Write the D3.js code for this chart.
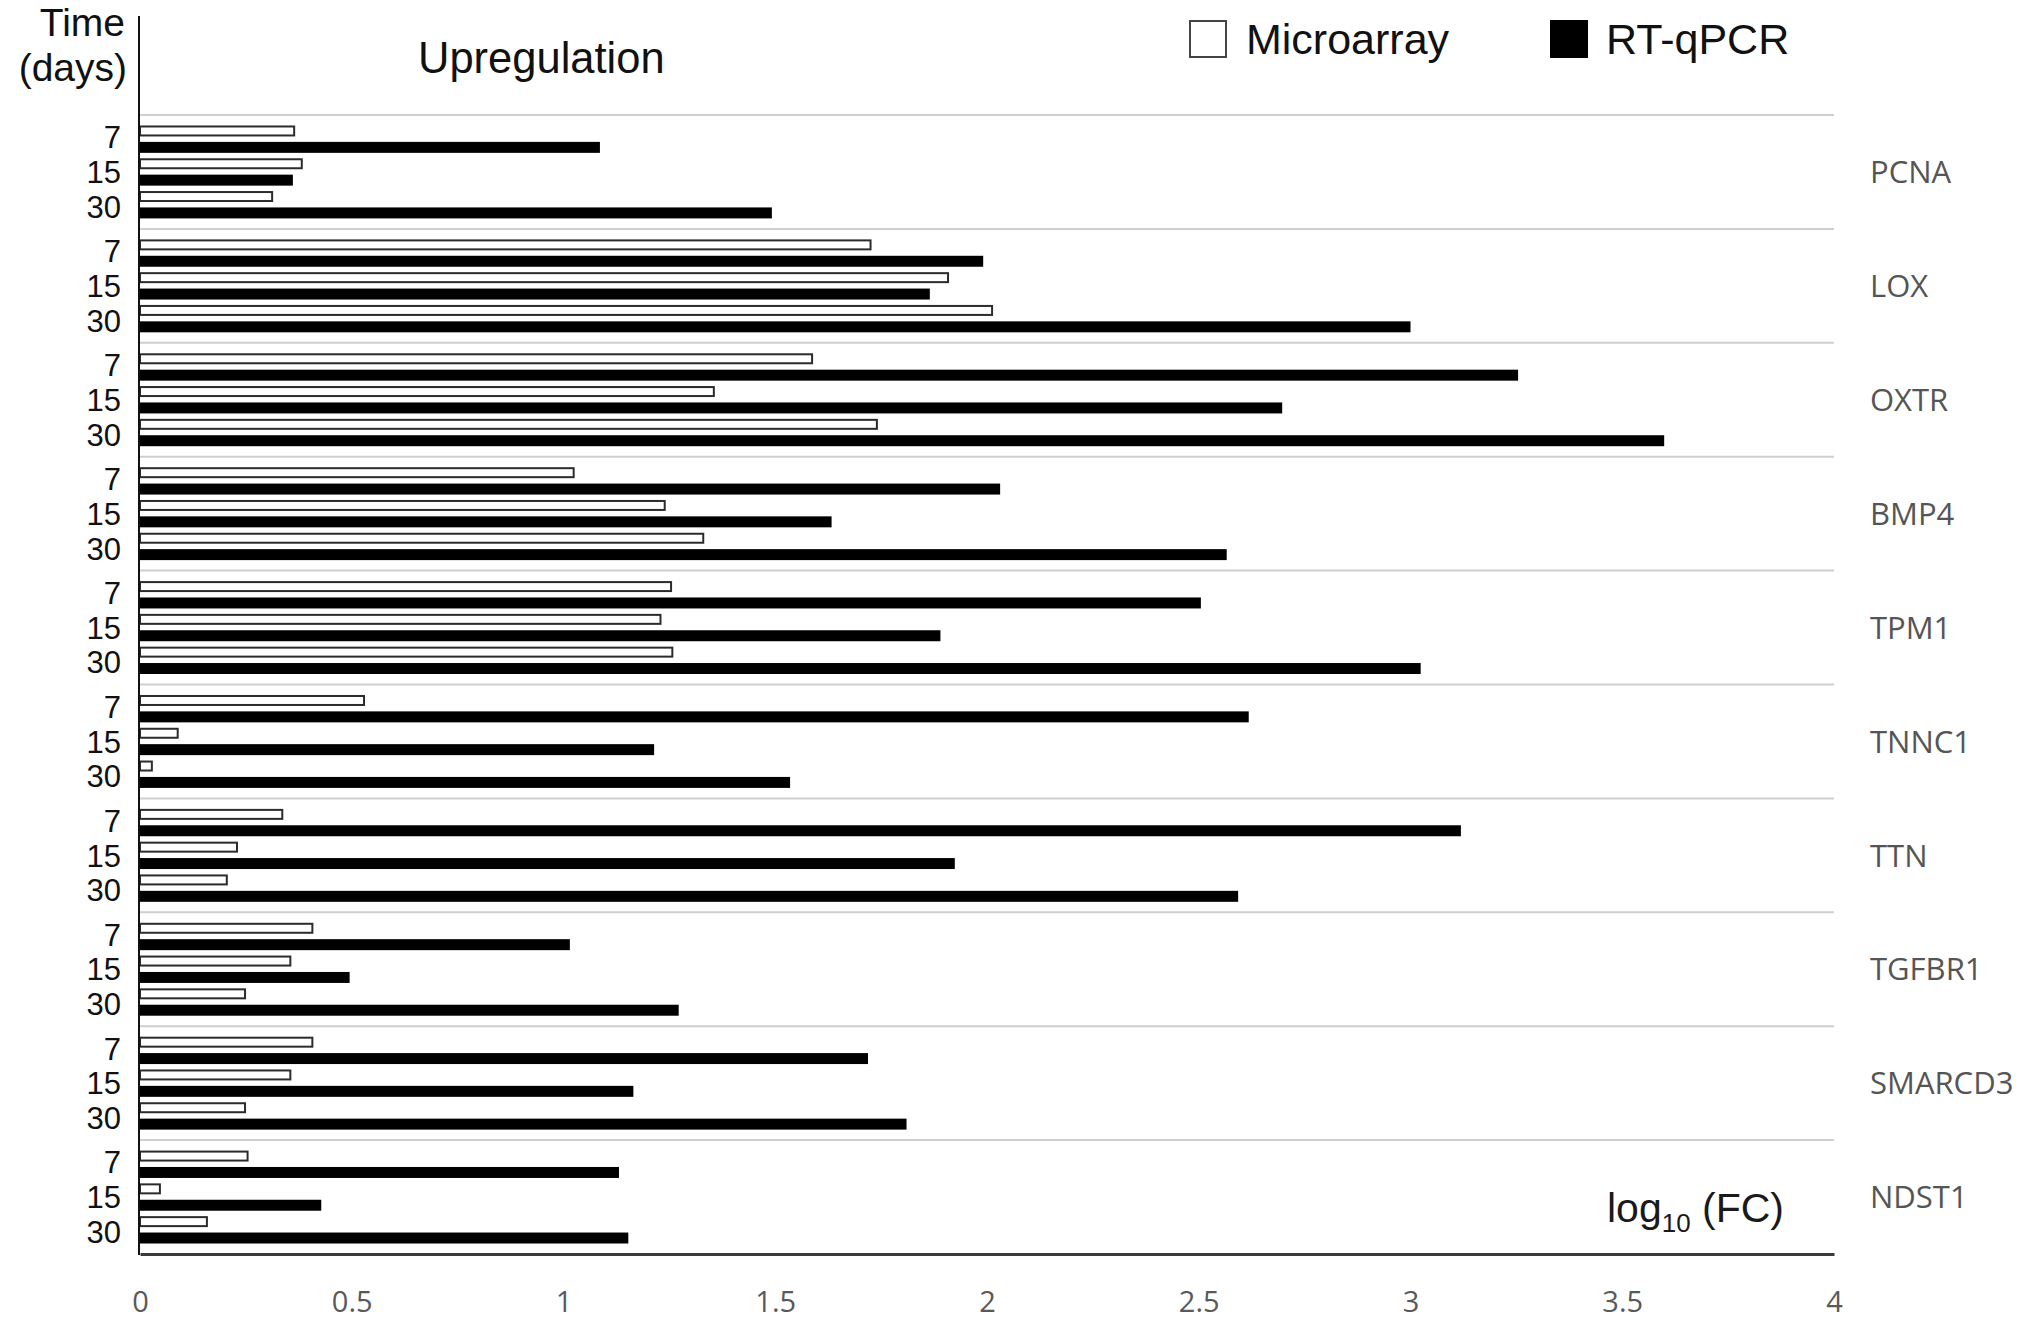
<!DOCTYPE html>
<html>
<head>
<meta charset="utf-8">
<script src="https://cdn.jsdelivr.net/npm/d3@7/dist/d3.min.js"></script>
<style>
  html, body { margin: 0; padding: 0; background: #fff; }
  svg { display: block; }
</style>
</head>
<body>
<svg id="chart" width="2031" height="1326"></svg>
<script>
// ---- data ----
const genes = ["PCNA", "LOX", "OXTR", "BMP4", "TPM1", "TNNC1", "TTN", "TGFBR1", "SMARCD3", "NDST1"];
const times = ["7", "15", "30"];
const seriesNames = ["Microarray", "RT-qPCR"];
// log10(FC) per gene, for days 7, 15, 30
const microarray = [
  [0.364, 0.382, 0.312],
  [1.725, 1.908, 2.012],
  [1.587, 1.355, 1.740],
  [1.024, 1.239, 1.330],
  [1.254, 1.229, 1.257],
  [0.529, 0.089, 0.028],
  [0.336, 0.229, 0.205],
  [0.407, 0.355, 0.248],
  [0.407, 0.355, 0.248],
  [0.254, 0.047, 0.158]
];
const rtqpcr = [
  [1.086, 0.361, 1.492],
  [1.991, 1.865, 3.000],
  [3.254, 2.697, 3.599],
  [2.031, 1.633, 2.566],
  [2.505, 1.890, 3.024],
  [2.618, 1.214, 1.535],
  [3.119, 1.924, 2.593],
  [1.015, 0.495, 1.272],
  [1.719, 1.165, 1.810],
  [1.131, 0.428, 1.153]
];
const xTicks = [0, 0.5, 1, 1.5, 2, 2.5, 3, 3.5, 4];

// ---- layout ----
const svg = d3.select("#chart");
const plotLeft = 140, plotRight = 1834, plotTop = 115, plotBottom = 1254;

const x = d3.scaleLinear().domain([0, 4]).range([plotLeft, plotRight]);
const yGroup = d3.scaleBand().domain(genes).range([plotTop, plotBottom]).padding(0);
const rowKeys = [];
times.forEach(t => seriesNames.forEach(s => rowKeys.push(t + "|" + s)));
const yRow = d3.scaleBand().domain(rowKeys).range([0, yGroup.bandwidth()])
  .paddingInner(0.33).paddingOuter(0.64);
const yTimeLabel = d3.scalePoint().domain(times).range([0, yGroup.bandwidth()]).padding(0.64);

// flatten bar records
const bars = [];
genes.forEach((g, gi) => {
  times.forEach((t, ti) => {
    bars.push({ gene: g, time: t, series: "Microarray", value: microarray[gi][ti] });
    bars.push({ gene: g, time: t, series: "RT-qPCR", value: rtqpcr[gi][ti] });
  });
});

// group separator lines
svg.append("g").selectAll("line").data(genes).join("line")
  .attr("x1", x(0)).attr("x2", x(4))
  .attr("y1", d => yGroup(d)).attr("y2", d => yGroup(d))
  .attr("stroke", "#cfcfcf").attr("stroke-width", 2);

// bars
svg.append("g").selectAll("rect").data(bars).join("rect")
  .attr("x", x(0))
  .attr("y", d => yGroup(d.gene) + yRow(d.time + "|" + d.series) + (d.series === "Microarray" ? 1 : 0))
  .attr("width", d => x(d.value) - x(0))
  .attr("height", d => yRow.bandwidth() - (d.series === "Microarray" ? 2 : 0))
  .attr("fill", d => d.series === "Microarray" ? "#ffffff" : "#000000")
  .attr("stroke", d => d.series === "Microarray" ? "#2b2b2b" : "none")
  .attr("stroke-width", 2);

// time labels
const timeLabels = [];
genes.forEach(g => times.forEach(t => timeLabels.push({ gene: g, time: t })));
svg.append("g").selectAll("text").data(timeLabels).join("text")
  .attr("x", 121)
  .attr("y", d => yGroup(d.gene) + yTimeLabel(d.time))
  .attr("dy", "0.36em")
  .attr("text-anchor", "end")
  .attr("font-family", "Liberation Sans, Arial, sans-serif")
  .attr("font-size", 31)
  .attr("fill", "#111")
  .text(d => d.time);

// gene labels
svg.append("g").selectAll("text").data(genes).join("text")
  .attr("x", 1870)
  .attr("y", d => yGroup(d) + yGroup.bandwidth() / 2)
  .attr("dy", "0.36em")
  .attr("font-family", "Open Sans, sans-serif")
  .attr("font-size", 31)
  .attr("fill", "#555555")
  .text(d => d);

// x axis
const xAxis = d3.axisBottom(x).tickValues(xTicks).tickSize(0).tickFormat(d => String(d));
const gx = svg.append("g").attr("transform", `translate(0,${plotBottom})`).call(xAxis);
gx.select(".domain").attr("stroke", "#3a3a3a").attr("stroke-width", 3);
gx.selectAll(".tick text")
  .attr("y", 48).attr("dy", "0.36em")
  .attr("font-family", "Open Sans, sans-serif")
  .attr("font-size", 29)
  .attr("fill", "#595959");

// y axis line
svg.append("line")
  .attr("x1", x(0) - 1).attr("x2", x(0) - 1)
  .attr("y1", 16).attr("y2", plotBottom + 1)
  .attr("stroke", "#111").attr("stroke-width", 2);

// axis titles
const titleFont = "Liberation Sans, Arial, sans-serif";
svg.append("text").attr("x", 125).attr("y", 36).attr("text-anchor", "end")
  .attr("font-family", titleFont).attr("font-size", 39).attr("fill", "#111").text("Time");
svg.append("text").attr("x", 127).attr("y", 81).attr("text-anchor", "end")
  .attr("font-family", titleFont).attr("font-size", 39).attr("fill", "#111").text("(days)");
svg.append("text").attr("x", 418).attr("y", 73)
  .attr("font-family", titleFont).attr("font-size", 43.5).attr("fill", "#111").text("Upregulation");

// log10 (FC)
const lg = svg.append("text").attr("x", 1784).attr("y", 1222).attr("text-anchor", "end")
  .attr("font-family", titleFont).attr("font-size", 41).attr("fill", "#1a1a1a");
lg.append("tspan").text("log");
lg.append("tspan").attr("font-size", 26).attr("dy", 10).text("10");
lg.append("tspan").attr("dy", -10).text(" (FC)");

// legend
const legend = svg.append("g");
const legendItems = [
  { name: "Microarray", box: 1190, text: 1246, fill: "#ffffff", stroke: "#444" },
  { name: "RT-qPCR", box: 1551, text: 1606, fill: "#000000", stroke: "#000" }
];
legend.selectAll("rect").data(legendItems).join("rect")
  .attr("x", d => d.box).attr("y", 21).attr("width", 36).attr("height", 36)
  .attr("fill", d => d.fill).attr("stroke", d => d.stroke).attr("stroke-width", 2);
legend.selectAll("text").data(legendItems).join("text")
  .attr("x", d => d.text).attr("y", 54)
  .attr("font-family", titleFont).attr("font-size", 43).attr("fill", "#111")
  .text(d => d.name);
</script>
</body>
</html>
